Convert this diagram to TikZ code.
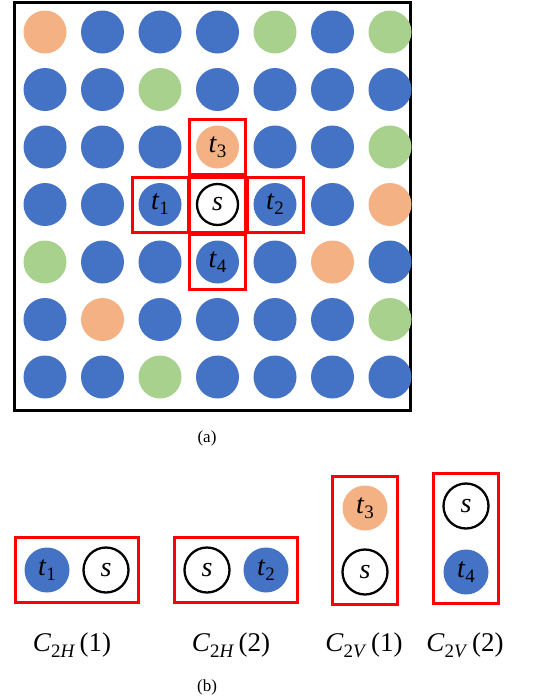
\documentclass[tikz,border=0pt]{standalone}
\usepackage{fontspec}
\setmainfont{Liberation Serif}
\usepackage{tikz}
\usetikzlibrary{positioning, fit}

\definecolor{dotblue}{RGB}{68,114,196}
\definecolor{dotorange}{RGB}{244,177,131}
\definecolor{dotgreen}{RGB}{169,209,142}
\definecolor{boxred}{RGB}{255,0,0}

\newcommand{\tsub}[2]{\textit{#1}\raisebox{-0.4ex}{\fontsize{19}{19}\selectfont #2}}
\newcommand{\csub}[3]{\textit{C}\raisebox{-0.45ex}{\fontsize{19}{19}\selectfont 2\textit{#1}}\,(#2)#3}

\tikzset{
  dot/.style={circle, inner sep=0pt, minimum size=43pt, font=\fontsize{28}{28}\selectfont},
  dotb/.style={dot, fill=dotblue},
  doto/.style={dot, fill=dotorange},
  dotg/.style={dot, fill=dotgreen},
  dotw/.style={dot, draw=black, line width=2.3pt, fill=white, minimum size=41pt},
  bigdot/.style={minimum size=45pt},
  redbox/.style={draw=boxred, line width=3pt, inner sep=0pt, minimum width=56pt, minimum height=55pt},
  fitbox/.style={draw=boxred, line width=3pt, inner sep=8.5pt},
  caption/.style={font=\fontsize{27}{27}\selectfont}
}

\begin{document}
\begin{tikzpicture}[x=1pt, y=-1pt]
\useasboundingbox (0,0) rectangle (548,699);

% (a) grid of sites
\draw[line width=3pt] (14,2) rectangle (410,410);
\foreach \colors [count=\r] in {{o,b,b,b,g,b,g},{b,b,g,b,b,b,b},{b,b,b,o,b,b,g},{b,b,b,w,b,b,o},{g,b,b,b,b,o,b},{b,o,b,b,b,b,g},{b,b,g,b,b,b,b}}{
  \foreach \c [count=\k] in \colors {
    \node[dot\c] (g-\r-\k) at ({45+57.5*(\k-1)},{32+57.5*(\r-1)}) {};
  }
}
\node[font=\fontsize{28}{28}\selectfont] at (g-4-4) {\textit{s}};
\node[font=\fontsize{28}{28}\selectfont] at (g-3-4) {\tsub{t}{3}};
\node[font=\fontsize{28}{28}\selectfont] at (g-4-3) {\tsub{t}{1}};
\node[font=\fontsize{28}{28}\selectfont] at (g-4-5) {\tsub{t}{2}};
\node[font=\fontsize{28}{28}\selectfont] at (g-5-4) {\tsub{t}{4}};

% cross of neighbours
\node[redbox] (box-s) at (g-4-4) {};
\node[redbox] (box-t1) at (g-4-3) {};
\node[redbox] (box-t2) at (g-4-5) {};
\node[redbox] (box-t3) at (g-3-4) {};
\node[redbox] (box-t4) at (g-5-4) {};

\node[font=\fontsize{17}{17}\selectfont] (lbl-a) at (207,438) {(a)};

% (b) clusters
\node[dotb, bigdot] (h1t) at (47,570) {\tsub{t}{1}};
\node[dotw, bigdot] (h1s) at (106,570) {\textit{s}};
\node[fitbox, fit=(h1t)(h1s)] (h1) {};

\node[dotw, bigdot] (h2s) at (207,570) {\textit{s}};
\node[dotb, bigdot] (h2t) at (266,570) {\tsub{t}{2}};
\node[fitbox, fit=(h2s)(h2t)] (h2) {};

\node[doto, bigdot] (v1t) at (365,508) {\tsub{t}{3}};
\node[dotw, bigdot] (v1s) at (365,572) {\textit{s}};
\node[fitbox, fit=(v1t)(v1s)] (v1) {};

\node[dotw, bigdot] (v2s) at (466,506) {\textit{s}};
\node[dotb, bigdot] (v2t) at (466,572) {\tsub{t}{4}};
\node[fitbox, fit=(v2s)(v2t)] (v2) {};

\node[caption] (c1) at (72,645) {\csub{H}{1}{}};
\node[caption] (c2) at (231,645) {\csub{H}{2}{}};
\node[caption] (c3) at (364,645) {\csub{V}{1}{}};
\node[caption] (c4) at (465,645) {\csub{V}{2}{}};

\node[font=\fontsize{17}{17}\selectfont] (lbl-b) at (207,687) {(b)};
\end{tikzpicture}
\end{document}
